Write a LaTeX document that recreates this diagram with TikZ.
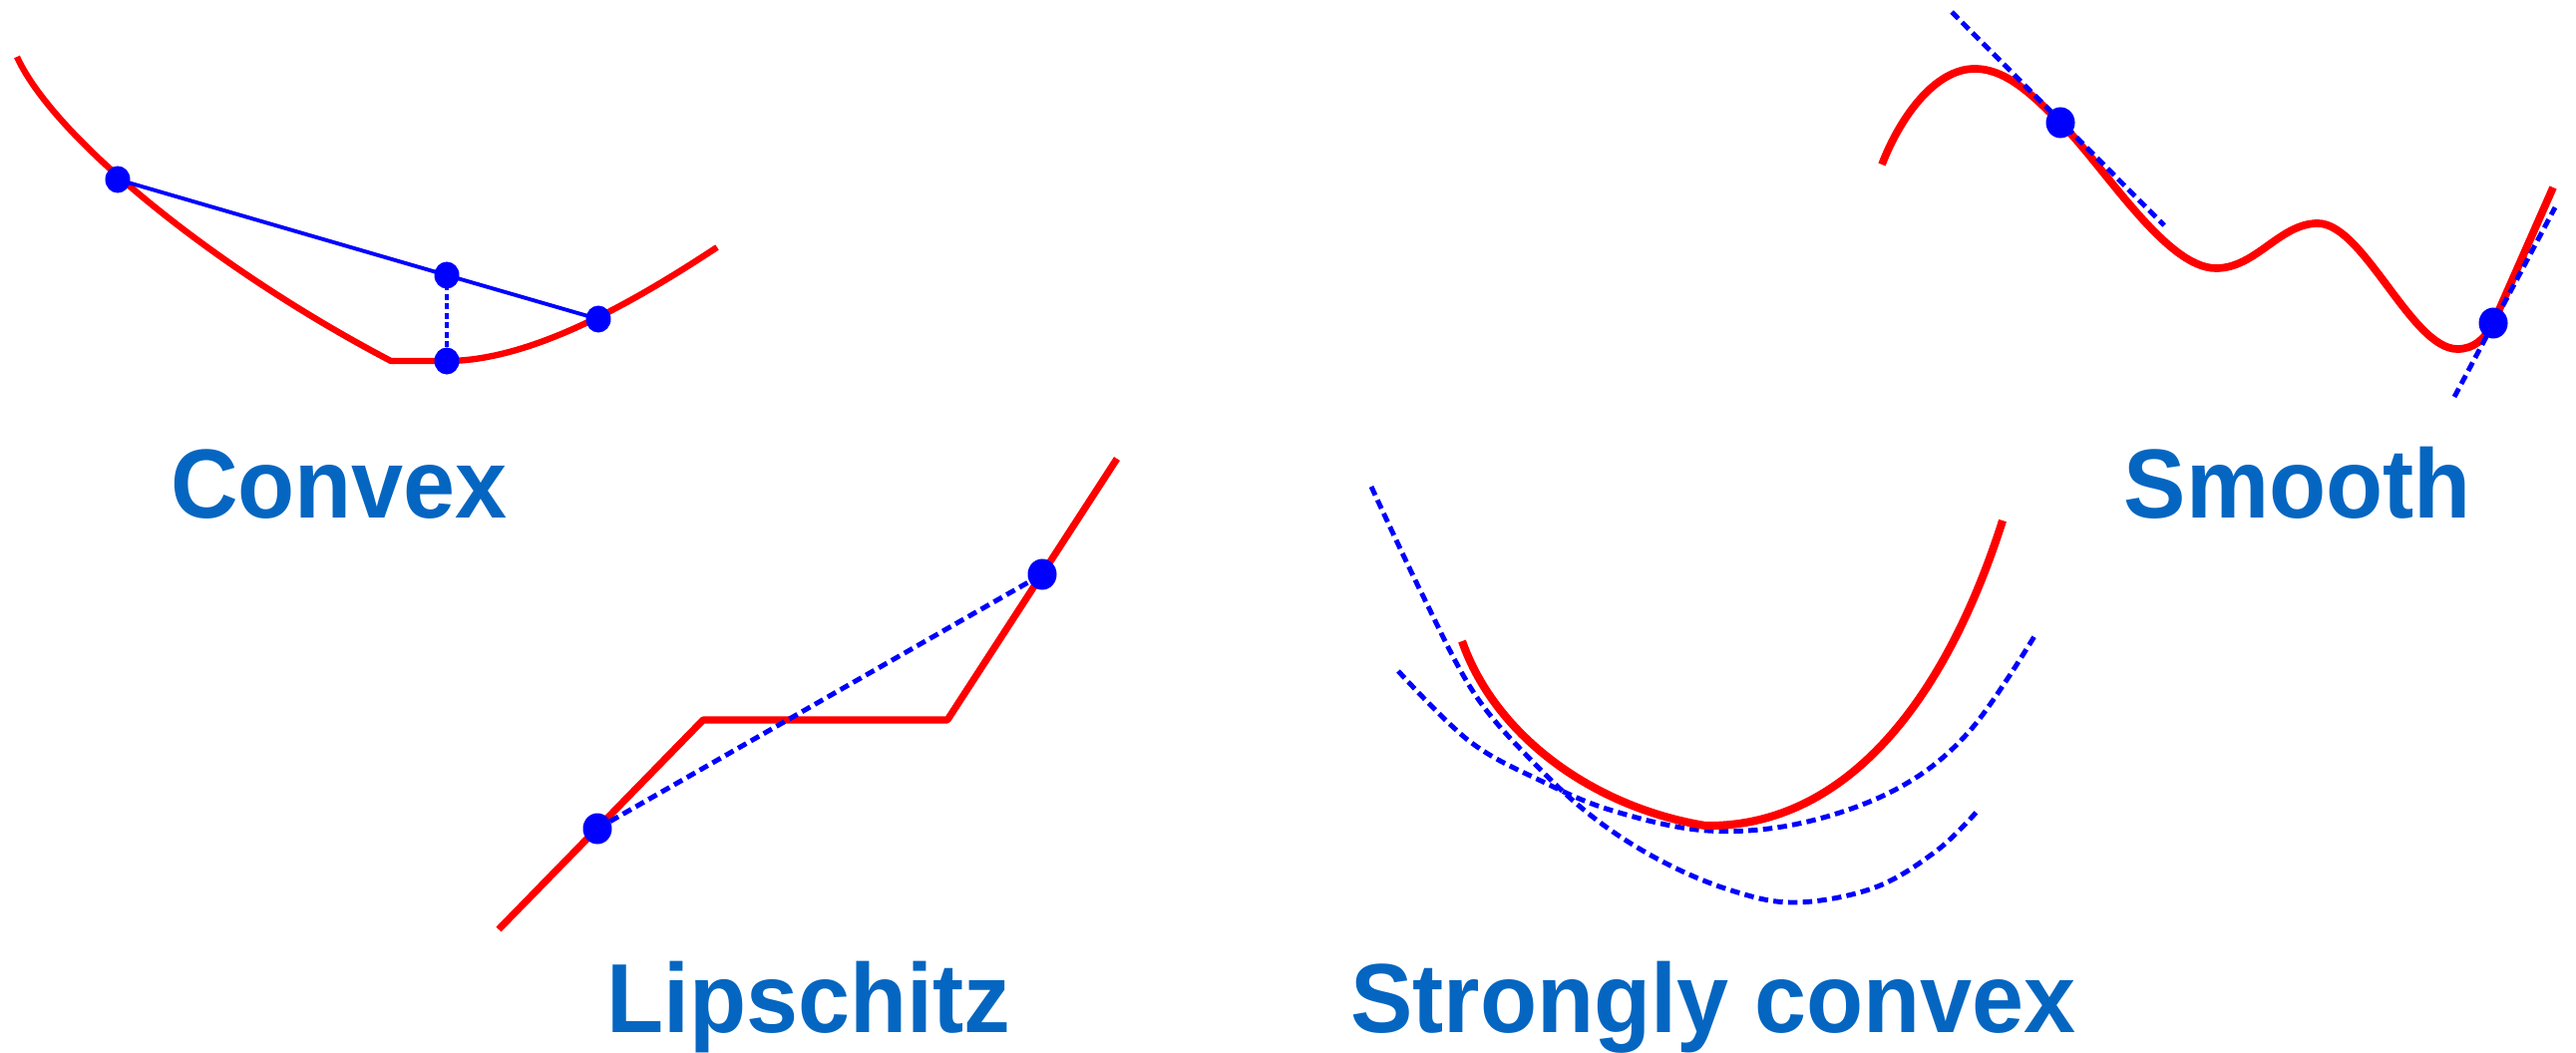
\documentclass[tikz,border=0pt]{standalone}
\usepackage{fontspec}
\newfontfamily\labfont[FakeStretch=0.95]{Liberation Sans}
\usetikzlibrary{shapes.geometric}
\definecolor{labblue}{RGB}{5,102,193}
\definecolor{pblue}{RGB}{0,0,255}
\definecolor{pred}{RGB}{255,0,0}
\tikzset{
  redcurve/.style={draw=pred, line width=#1, line join=round},
  redcurve/.default=2pt,
  bluesolid/.style={draw=pblue, line width=1.1pt},
  bluedash/.style={draw=pblue, line width=1.4pt, dash pattern=on 2.7pt off 1.5pt},
  bluedot/.style={ellipse, fill=pblue, inner sep=0pt, minimum width=#1, minimum height=#1+0.02cm},
  bluedot/.default=0.25cm,
  lab/.style={anchor=base, text=labblue, font=\labfont\bfseries\fontsize{28pt}{30pt}\selectfont, inner sep=0pt}
}
\begin{document}
\begin{tikzpicture}[x=0.01cm, y=-0.01cm]
\path[use as bounding box, fill=white] (0,0) rectangle (2583,1055);

% ---------------- Convex ----------------
\coordinate (cvS) at (17,57);
\coordinate (cvP) at (118,180);
\coordinate (cvK) at (392,362);
\coordinate (cvB) at (448,362);
\coordinate (cvM) at (448,276);
\coordinate (cvQ) at (600,320);
\coordinate (cvE) at (719,248);
\draw[redcurve=1.8pt] (cvS) .. controls (55,140) and (220,272) .. (cvK) -- (cvB)
      .. controls (535,362) and (640,300) .. (cvE);
\draw[bluesolid] (cvP) -- (cvM) -- (cvQ);
\draw[draw=pblue, line width=1.1pt, dash pattern=on 1.7pt off 1pt] (cvM) -- (cvB);
\node[bluedot] (dcvP) at (cvP) {};
\node[bluedot] (dcvM) at (cvM) {};
\node[bluedot] (dcvQ) at (cvQ) {};
\node[bluedot] (dcvB) at (cvB) {};
\node[lab] (lconvex) at (340,519) {Convex};

% ---------------- Smooth ----------------
\coordinate (smS) at (1887,165);
\coordinate (smPk) at (1980,69);
\coordinate (smA) at (2066,123);
\coordinate (smM1) at (2222,269);
\coordinate (smX) at (2324,224);
\coordinate (smM2) at (2464,350);
\coordinate (smB) at (2500,324);
\coordinate (smE) at (2560,188);
\coordinate (tA1) at (1957,12);
\coordinate (tA2) at (2170,226);
\coordinate (tB1) at (2461,398);
\coordinate (tB2) at (2562,208);
\draw[redcurve=2.2pt] (smS) .. controls (1905,118) and (1940,69) .. (smPk)
   .. controls (2014,69) and (2042,100) .. (smA)
   .. controls (2110,167) and (2172,269) .. (smM1)
   .. controls (2262,269) and (2286,224) .. (smX)
   .. controls (2370,224) and (2418,350) .. (smM2)
   .. controls (2480,350) and (2491,341) .. (smB)
   -- (smE);
\draw[bluedash] (tA1) -- (tA2);
\draw[bluedash] (tB1) -- (tB2);
\node[bluedot=0.29cm] (dsmA) at (smA) {};
\node[bluedot=0.29cm] (dsmB) at (smB) {};
\node[lab] (lsmooth) at (2304,519) {Smooth};

% ---------------- Lipschitz ----------------
\coordinate (lpS) at (500,932);
\coordinate (lpK1) at (705,722);
\coordinate (lpK2) at (950,722);
\coordinate (lpE) at (1120,460);
\coordinate (lpA) at (599,831);
\coordinate (lpB) at (1045,576);
\draw[redcurve=2pt] (lpS) -- (lpK1) -- (lpK2) -- (lpE);
\draw[bluedash] (lpA) -- (lpB);
\node[bluedot=0.29cm] (dlpA) at (lpA) {};
\node[bluedot=0.29cm] (dlpB) at (lpB) {};
\node[lab] (llip) at (811,1035) {Lipschitz};

% ---------------- Strongly convex ----------------
\draw[bluedash] plot[smooth, tension=0.6] coordinates {(1375,488) (1426,596) (1478,695) (1536,763) (1598,820) (1665,863) (1736,893) (1801,905) (1880,890) (1942,853) (1983,813)};
\draw[bluedash] plot[smooth, tension=0.6] coordinates {(1402,673) (1473,743) (1545,783) (1617,813) (1712,833) (1808,825) (1904,790) (1975,733) (2040,638)};
\draw[redcurve=2.3pt] (1466,643) .. controls (1500,740) and (1600,810) .. (1710,828)
   .. controls (1840,830) and (1945,720) .. (2008,522);
\node[lab] (lstrong) at (1718,1035) {Strongly convex};
\end{tikzpicture}
\end{document}
